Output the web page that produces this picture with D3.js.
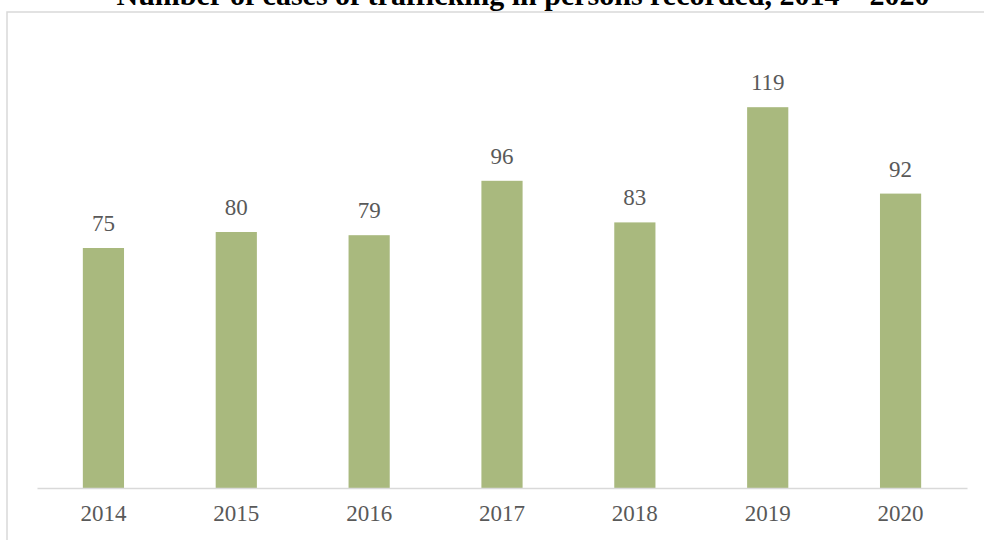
<!DOCTYPE html>
<html>
<head>
<meta charset="utf-8">
<script src="https://cdn.jsdelivr.net/npm/d3@7"></script>
<style>
  body { margin: 0; background: #fff; }
  svg { display: block; }
</style>
</head>
<body>
<div id="chart"></div>
<script>
// donnees
const years = ["2014", "2015", "2016", "2017", "2018", "2019", "2020"];
const cases = [75, 80, 79, 96, 83, 119, 92];
const title = "Number of cases of trafficking in persons recorded, 2014 – 2020";

const W = 984, H = 540;
const svg = d3.select("#chart").append("svg")
    .attr("width", W)
    .attr("height", H);

// cadre du graphique (coupe a droite et en bas)
svg.append("rect")
    .attr("x", 7).attr("y", 12)
    .attr("width", 1000).attr("height", 600)
    .attr("fill", "none")
    .attr("stroke", "#d9d9d9")
    .attr("stroke-width", 1.5);

// titre (coupe en haut comme l'original)
svg.append("text")
    .attr("x", 523).attr("y", 5)
    .attr("text-anchor", "middle")
    .style("font-family", "'Liberation Serif', 'Times New Roman', serif")
    .style("font-weight", "bold")
    .style("font-size", "30px")
    .attr("fill", "#000")
    .text(title);

// echelles
const x = d3.scaleBand()
    .domain(years)
    .range([37, 967])
    .paddingInner(0.69)
    .paddingOuter(0.345);

const y = d3.scaleLinear()
    .domain([0, 140])
    .range([488, 40]);

// barres
svg.selectAll("rect.bar")
    .data(years)
    .join("rect")
    .attr("class", "bar")
    .attr("x", d => x(d))
    .attr("y", (d, i) => y(cases[i]))
    .attr("width", x.bandwidth())
    .attr("height", (d, i) => y(0) - y(cases[i]))
    .attr("fill", "#a9b97e");

// etiquettes de valeurs
svg.selectAll("text.val")
    .data(years)
    .join("text")
    .attr("class", "val")
    .attr("x", d => x(d) + x.bandwidth() / 2)
    .attr("y", (d, i) => y(cases[i]) - 17)
    .attr("text-anchor", "middle")
    .style("font-family", "'Liberation Serif', 'Times New Roman', serif")
    .style("font-size", "23px")
    .attr("fill", "#595959")
    .text((d, i) => cases[i]);

// axe X
const xAxis = svg.append("g")
    .attr("transform", `translate(0,${y(0)})`)
    .call(d3.axisBottom(x).tickSize(0).tickPadding(17));
xAxis.select(".domain")
    .attr("stroke", "#d9d9d9")
    .attr("stroke-width", 1.5);
xAxis.selectAll("text")
    .style("font-family", "'Liberation Serif', 'Times New Roman', serif")
    .style("font-size", "23px")
    .attr("fill", "#595959")
    .attr("dy", "0.71em");
</script>
</body>
</html>
